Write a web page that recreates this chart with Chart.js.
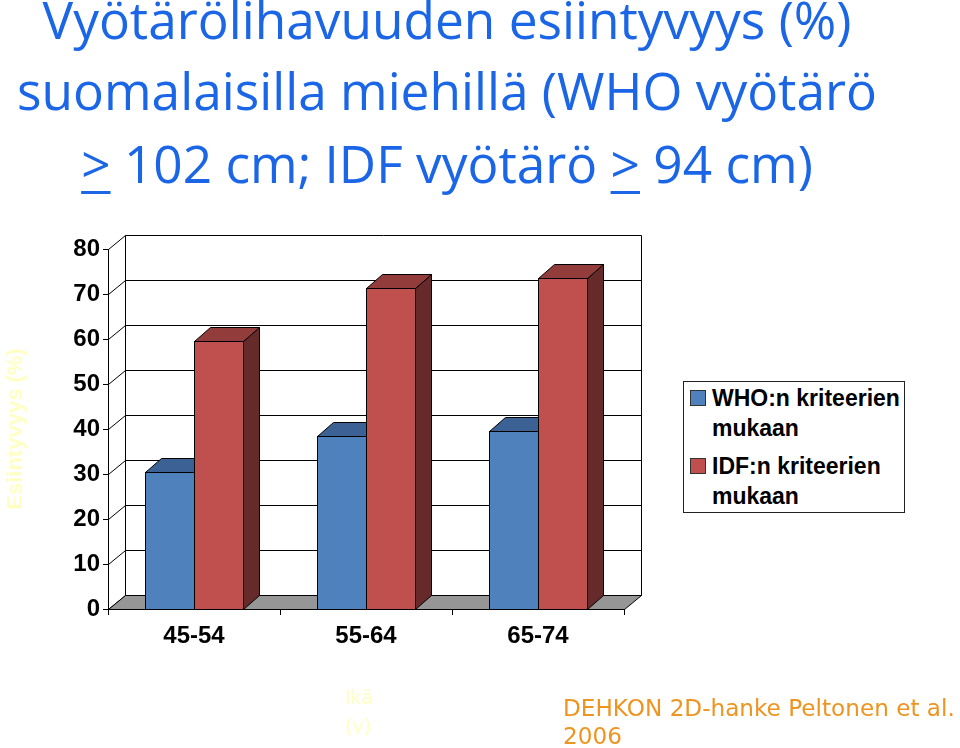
<!DOCTYPE html>
<html><head><meta charset="utf-8">
<script src="https://cdn.jsdelivr.net/npm/chart.js@4.4.1/dist/chart.umd.min.js"></script>
<style>
html,body{margin:0;padding:0;background:#fff;}
body{width:960px;height:748px;position:relative;overflow:hidden;}
#c{position:absolute;left:0;top:0;}
.tline{position:absolute;left:0;top:0;width:894px;text-align:center;font-family:'Open Sans',sans-serif;color:#1A66E6;white-space:nowrap;line-height:1;}
.tline u{text-decoration-thickness:3px;text-underline-offset:8px;}
#legend{position:absolute;left:683px;top:381px;width:220px;border:1px solid #222;padding:1px 0 1px 0;font-family:'Liberation Sans',Arial,sans-serif;font-weight:bold;font-size:23px;line-height:30px;color:#000;background:#fff;}
#legend .li{position:relative;padding-left:28px;padding-right:2px;}
#legend .li + .li{margin-top:8px;}
#legend .sw{position:absolute;left:6px;top:7px;width:14px;height:14px;border:1px solid #333;}
.note{position:absolute;left:0;top:0;white-space:nowrap;line-height:1;}
</style></head>
<body>
<canvas id="c" width="960" height="748"></canvas>
<div id="legend"></div>
<script>
// ---- data ----
const categories = ['45-54', '55-64', '65-74'];
const whoValues = [30.5, 38.5, 39.6];
const idfValues = [59.5, 71.3, 73.5];
const seriesNames = ['WHO:n kriteerien mukaan', 'IDF:n kriteerien mukaan'];
const yAxisTitle = 'Esiintyvyys (%)';
const yMin = 0, yMax = 80, yStep = 10;
const titleLines = ['Vyötärölihavuuden esiintyvyys (%)', 'suomalaisilla miehillä (WHO vyötärö', '> 102 cm; IDF vyötärö > 94 cm)'];
const xAxisNote = ['Ikä', '(v)'];
const sourceNote = ['DEHKON 2D-hanke Peltonen et al.', '2006'];

// ---- styles ----
const frontColors = ['#4F81BD', '#C0504D'];
const topColors = ['#3B6195', '#923D3B'];
const sideColors = ['#2C4A73', '#652A29'];
const WDX = 17, WDY = -14;   // wall depth
const BDX = 16, BDY = -14;   // bar depth
const tickFont = {family: "'Liberation Sans', Arial, sans-serif", size: 24, weight: 'bold'};

const threeD = {
  id: 'threeD',
  beforeDraw(chart) {
    const {ctx, chartArea: a, scales: {y}} = chart;
    const L = Math.round(a.left) + 0.5, R = Math.round(a.right) + 0.5;
    const T = Math.round(a.top) + 0.5, B = Math.round(a.bottom) + 0.5;
    ctx.save();
    ctx.lineWidth = 1;
    ctx.strokeStyle = '#000';
    ctx.fillStyle = '#fff';
    ctx.beginPath();
    ctx.moveTo(L, T); ctx.lineTo(L + WDX, T + WDY); ctx.lineTo(L + WDX, B + WDY); ctx.lineTo(L, B); ctx.closePath();
    ctx.fill();
    ctx.fillRect(L + WDX, T + WDY, R - L, B - T);
    for (let v = yMin; v <= yMax; v += yStep) {
      const py = Math.round(y.getPixelForValue(v)) + 0.5;
      ctx.beginPath();
      ctx.moveTo(L, py); ctx.lineTo(L + WDX, py + WDY); ctx.lineTo(R + WDX, py + WDY);
      ctx.stroke();
    }
    ctx.beginPath();
    ctx.moveTo(L + WDX, T + WDY); ctx.lineTo(L + WDX, B + WDY);
    ctx.moveTo(R + WDX, T + WDY); ctx.lineTo(R + WDX, B + WDY);
    ctx.stroke();
    ctx.fillStyle = '#969696';
    ctx.beginPath();
    ctx.moveTo(L, B); ctx.lineTo(R, B); ctx.lineTo(R + WDX, B + WDY); ctx.lineTo(L + WDX, B + WDY); ctx.closePath();
    ctx.fill(); ctx.stroke();
    ctx.restore();
  },
  afterDatasetsDraw(chart) {
    const {ctx} = chart;
    const metas = chart.data.datasets.map((d, i) => chart.getDatasetMeta(i));
    ctx.save();
    ctx.lineWidth = 1;
    ctx.strokeStyle = '#000';
    for (let j = 0; j < categories.length; j++) {
      metas.forEach((m, di) => {
        const el = m.data[j];
        const l = Math.round(el.x - el.width / 2) + 0.5, r = Math.round(el.x + el.width / 2) + 0.5;
        const t = Math.round(el.y) + 0.5, b = Math.round(el.base) + 0.5;
        ctx.fillStyle = sideColors[di];
        ctx.beginPath();
        ctx.moveTo(r, t); ctx.lineTo(r + BDX, t + BDY); ctx.lineTo(r + BDX, b + BDY); ctx.lineTo(r, b); ctx.closePath();
        ctx.fill(); ctx.stroke();
        ctx.fillStyle = topColors[di];
        ctx.beginPath();
        ctx.moveTo(l, t); ctx.lineTo(l + BDX, t + BDY); ctx.lineTo(r + BDX, t + BDY); ctx.lineTo(r, t); ctx.closePath();
        ctx.fill(); ctx.stroke();
        ctx.fillStyle = frontColors[di];
        ctx.fillRect(l, t, r - l, b - t);
        ctx.strokeRect(l, t, r - l, b - t);
      });
    }
    ctx.restore();
  }
};

new Chart(document.getElementById('c'), {
  type: 'bar',
  data: {
    labels: categories,
    datasets: [
      {label: seriesNames[0], data: whoValues, backgroundColor: frontColors[0], borderColor: '#000', borderWidth: 1},
      {label: seriesNames[1], data: idfValues, backgroundColor: frontColors[1], borderColor: '#000', borderWidth: 1}
    ]
  },
  options: {
    responsive: false,
    animation: false,
    devicePixelRatio: 1,
    layout: {padding: {left: 0, top: 249, right: 336, bottom: 89}},
    datasets: {bar: {categoryPercentage: 0.57, barPercentage: 1}},
    plugins: {legend: {display: false}, tooltip: {enabled: false}, title: {display: false}},
    scales: {
      x: {
        grid: {offset: true, drawOnChartArea: false, tickLength: 6, color: '#000'},
        border: {color: '#000', width: 1},
        ticks: {font: tickFont, color: '#000', padding: 7},
        afterFit(s) { s.height = 50; }
      },
      y: {
        min: yMin, max: yMax,
        ticks: {stepSize: yStep, font: tickFont, color: '#000', padding: 3},
        grid: {drawOnChartArea: false, tickLength: 5, color: '#000'},
        border: {color: '#000', width: 1},
        title: {display: true, text: yAxisTitle, color: '#FFFFC4', font: {family: "'Liberation Sans', Arial, sans-serif", size: 22, weight: 'bold'}, padding: {top: 3, bottom: 0}},
        afterFit(s) { s.width = 108; }
      }
    }
  },
  plugins: [threeD]
});

// ---- legend (HTML) ----
const legend = document.getElementById('legend');
seriesNames.forEach((n, i) => {
  const it = document.createElement('div'); it.className = 'li';
  const sw = document.createElement('span'); sw.className = 'sw'; sw.style.background = frontColors[i];
  it.appendChild(sw); it.appendChild(document.createTextNode(n));
  legend.appendChild(it);
});

// ---- text helpers ----
function baselineOf(el) {
  const m = document.createElement('span');
  m.style.cssText = 'display:inline-block;width:0;height:0;vertical-align:baseline;';
  el.appendChild(m);
  const b = m.getBoundingClientRect().top;
  m.remove();
  return b;
}
function makeLine(cls, styleText, build) {
  const d = document.createElement('div');
  d.className = cls; d.style.cssText += styleText;
  build(d);
  document.body.appendChild(d);
  return d;
}
function setBaseline(el, y) {
  const cur = parseFloat(el.style.top) || 0;
  el.style.top = (cur + y - baselineOf(el)) + 'px';
}
function fitSize(text, family, base, target) {
  const probe = document.createElement('span');
  probe.textContent = text;
  probe.style.cssText = `position:absolute;white-space:nowrap;font-family:${family};font-size:${base}px;`;
  document.body.appendChild(probe);
  const w = probe.getBoundingClientRect().width;
  probe.remove();
  return base * target / w;
}

// ---- title ----
const tl = titleLines.map((txt, i) => makeLine('tline', 'font-size:50px;', d => {
  if (i === 2) {
    txt.split(/(>)/).forEach(part => {
      if (part === '>') { const u = document.createElement('u'); u.textContent = '>'; d.appendChild(u); }
      else if (part) d.appendChild(document.createTextNode(part));
    });
  } else d.textContent = txt;
}));
const tfs = fitSize(titleLines[0], "'Open Sans',sans-serif", 50, 809);
tl.forEach(d => d.style.fontSize = tfs + 'px');
[39, 110, 183].forEach((y, i) => setBaseline(tl[i], y));

// ---- notes ----
const noteFont = "'DejaVu Sans', sans-serif";
const ika = xAxisNote.map(t => makeLine('note', `left:345px;font-family:${noteFont};font-size:19px;color:#FFFFC0;`, d => d.textContent = t));
setBaseline(ika[0], 704); setBaseline(ika[1], 733);
const src = sourceNote.map(t => makeLine('note', `left:563px;font-family:${noteFont};font-size:19px;color:#EE9420;`, d => d.textContent = t));
const sfs = fitSize(sourceNote[0], noteFont, 19, 392);
src.forEach(d => d.style.fontSize = sfs + 'px');
setBaseline(src[0], 716); setBaseline(src[1], 744);
</script>
</body></html>
